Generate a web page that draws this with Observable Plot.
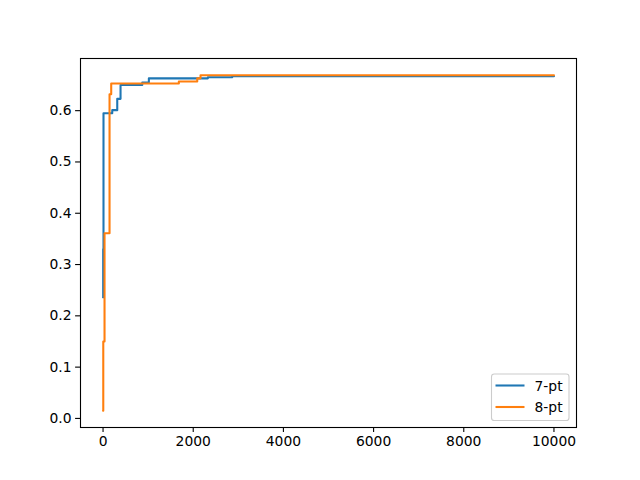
<!DOCTYPE html>
<html>
<head>
<meta charset="utf-8">
<script src="https://cdn.jsdelivr.net/npm/d3@7"></script>
<script src="https://cdn.jsdelivr.net/npm/@observablehq/plot@0.6"></script>
<style>
  html, body { margin: 0; padding: 0; background: white; }
  #chart { width: 640px; height: 480px; }
</style>
</head>
<body>
<div id="chart"></div>
<script>
// Series: step changes (iteration, best value)
const series = ["7-pt", "8-pt"];
const colors = ["#1f77b4", "#ff7f0e"];
const x7 = [0, 3, 10, 204, 315, 388, 870, 1016, 2325, 2865, 10000];
const y7 = [0.236, 0.330, 0.595, 0.601, 0.623, 0.650, 0.655, 0.663, 0.665, 0.667, 0.667];
const x8 = [0, 5, 33, 144, 181, 1681, 2089, 2162, 10000];
const y8 = [0.015, 0.150, 0.361, 0.632, 0.653, 0.657, 0.663, 0.669, 0.669];
const xTicks = [0, 2000, 4000, 6000, 8000, 10000];
const yTicks = [0.0, 0.1, 0.2, 0.3, 0.4, 0.5, 0.6];

const d7 = x7.map((x, i) => ({x, y: y7[i], s: series[0]}));
const d8 = x8.map((x, i) => ({x, y: y8[i], s: series[1]}));

// matplotlib-like 5% autoscale margins
const allX = x7.concat(x8), allY = y7.concat(y8);
const [xmin, xmax] = d3.extent(allX), [ymin, ymax] = d3.extent(allY);
const mx = (xmax - xmin) * 0.05, my = (ymax - ymin) * 0.05;

const fs = "13.89px";
const chart = Plot.plot({
  width: 640,
  height: 480,
  marginLeft: 80,
  marginRight: 64,
  marginTop: 58,
  marginBottom: 53,
  style: {fontFamily: "DejaVu Sans", fontSize: fs, background: "white", color: "black"},
  x: {domain: [xmin - mx, xmax + mx]},
  y: {domain: [ymin - my, ymax + my]},
  marks: [
    Plot.axisX({ticks: xTicks, tickFormat: d => String(d), tickSize: 4.9, tickPadding: 4, label: null, fontSize: fs, strokeWidth: 1.1}),
    Plot.axisY({ticks: yTicks, tickFormat: d3.format(".1f"), tickSize: 4.9, tickPadding: 4, label: null, fontSize: fs, strokeWidth: 1.1}),
    Plot.line(d7, {x: "x", y: "y", curve: "step-after", stroke: colors[0], strokeWidth: 2.08, clip: true}),
    Plot.line(d8, {x: "x", y: "y", curve: "step-after", stroke: colors[1], strokeWidth: 2.08, clip: true}),
    Plot.frame({stroke: "black", strokeWidth: 1.1})
  ]
});
document.getElementById("chart").appendChild(chart);

// Legend (lower right, matplotlib style)
const svg = d3.select(chart);
const lg = svg.append("g").attr("font-family", "DejaVu Sans").attr("font-size", fs).attr("text-anchor", "start");
const bx = 491.5, by = 374, bw = 77.5, bh = 46.5;
lg.append("rect").attr("x", bx).attr("y", by).attr("width", bw).attr("height", bh)
  .attr("rx", 2.8).attr("fill", "white").attr("fill-opacity", 0.8)
  .attr("stroke", "#cccccc").attr("stroke-width", 1.1);
series.forEach((s, i) => {
  const yy = by + 11.5 + i * 21.5;
  lg.append("line").attr("x1", bx + 4).attr("x2", bx + 33).attr("y1", yy).attr("y2", yy)
    .attr("stroke", colors[i]).attr("stroke-width", 2.08);
  lg.append("text").attr("x", bx + 43).attr("y", yy).attr("dy", "0.36em")
    .attr("text-anchor", "start").attr("fill", "black").text(s);
});
</script>
</body>
</html>
